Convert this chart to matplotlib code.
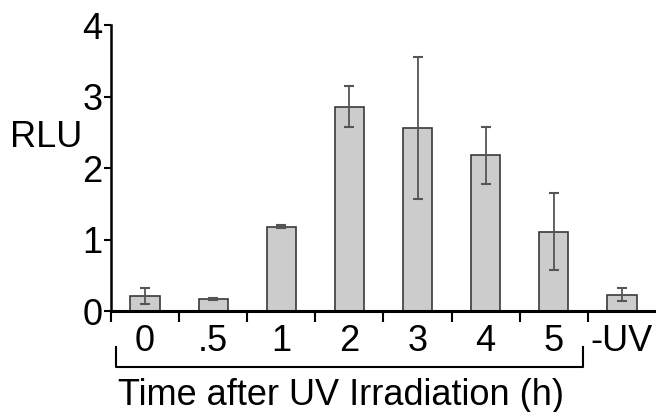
import matplotlib.pyplot as plt
from matplotlib.lines import Line2D

plt.rcParams["font.family"] = ["Liberation Sans", "DejaVu Sans"]

categories = ["0", ".5", "1", "2", "3", "4", "5", "-UV"]
rlu = [0.21, 0.17, 1.18, 2.86, 2.56, 2.18, 1.11, 0.23]
rlu_err = [0.11, 0.01, 0.02, 0.29, 0.99, 0.40, 0.54, 0.09]

_BAR_FACE = "#cccccc"
_BAR_EDGE = "#3a3a3a"
_ERR_COLOR = "#555555"

fig = plt.figure(figsize=(6.56, 4.12), dpi=100)
ax = fig.add_axes([0.1692, 0.2451, 0.8308, 0.6942])

x = list(range(len(categories)))
ax.bar(
    x,
    rlu,
    width=0.43,
    color=_BAR_FACE,
    edgecolor=_BAR_EDGE,
    linewidth=1.2,
    zorder=2,
)
ax.errorbar(
    x,
    rlu,
    yerr=rlu_err,
    fmt="none",
    ecolor=_ERR_COLOR,
    elinewidth=1.3,
    capsize=3.5,
    capthick=1.5,
    zorder=3,
)

ax.set_xlim(-0.5, len(categories) - 0.5)
ax.set_ylim(0, 4)
ax.set_yticks([0, 1, 2, 3, 4])
ax.tick_params(axis="y", direction="out", length=5, width=1.5, labelsize=26, pad=1)

# category labels without ticks, ticks sit between categories
ax.set_xticks(x, categories)
ax.tick_params(axis="x", which="major", length=0, labelsize=26, pad=9)
ax.set_xticks([i - 0.5 for i in range(len(categories))], minor=True)
ax.tick_params(axis="x", which="minor", direction="out", length=8, width=1.5)

for side in ("top", "right"):
    ax.spines[side].set_visible(False)
ax.spines["left"].set_linewidth(1.8)
ax.spines["bottom"].set_linewidth(2.2)

fig.text(0.016, 1 - 147 / 412, "RLU", fontsize=26, ha="left", va="baseline")

# bracket under time points
bx0 = fig.transFigure.inverted().transform(ax.transData.transform((-0.42, 0)))[0]
bx1 = fig.transFigure.inverted().transform(ax.transData.transform((6.43, 0)))[0]
y_top = 1 - 347 / 412
y_bot = 1 - 367 / 412
fig.add_artist(Line2D([bx0, bx0, bx1, bx1], [y_top, y_bot, y_bot, y_top],
                      transform=fig.transFigure, color="black", linewidth=1.5))

fig.text(0.18, 1 - 405 / 412, "Time after UV Irradiation (h)",
         fontsize=26, ha="left", va="baseline")

fig.savefig("out.png", dpi=100, facecolor="white")
